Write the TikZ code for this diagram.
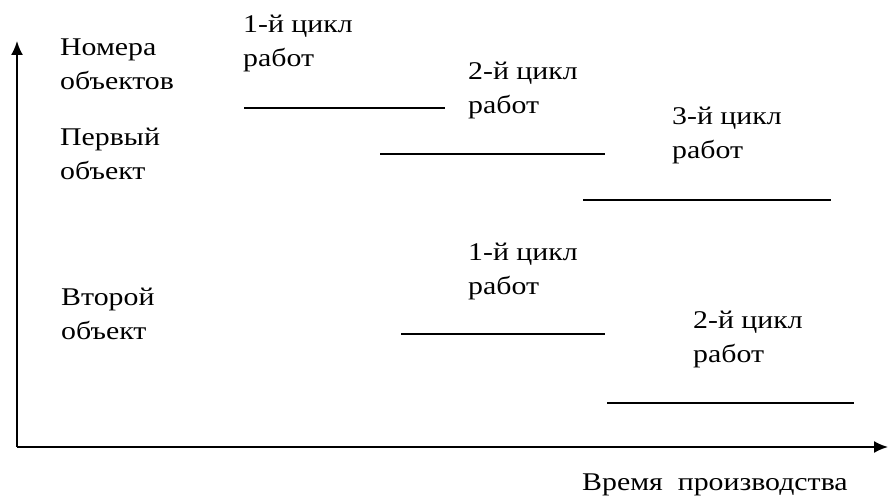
\documentclass[tikz,border=0pt]{standalone}
\usepackage{fontspec}
\setmainfont{Liberation Serif}[FakeStretch=1.17]
\usetikzlibrary{arrows.meta}
\begin{document}
\begin{tikzpicture}[x=1pt,y=-1pt,
  lbl/.style={anchor=base west,inner sep=0pt,align=left,
    font=\fontsize{25.5}{34}\selectfont},
  axis/.style={line width=1.8pt,-{Latex[length=14pt,width=12pt]}},
  seg/.style={line width=1.2pt}]
\useasboundingbox (0,0) rectangle (888,497);
\coordinate (o) at (17,447);
\coordinate (ytip) at (17,41);
\coordinate (xtip) at (888,447);
\draw[axis] (o) -- (ytip);
\draw[axis] (o) -- (xtip);
% segments
\coordinate (a1) at (244,108); \coordinate (a2) at (445,108);
\coordinate (b1) at (380,154); \coordinate (b2) at (605,154);
\coordinate (c1) at (583,200); \coordinate (c2) at (831,200);
\coordinate (d1) at (401,334); \coordinate (d2) at (605,334);
\coordinate (e1) at (607,403); \coordinate (e2) at (854,403);
\draw[seg] (a1) -- (a2);
\draw[seg] (b1) -- (b2);
\draw[seg] (c1) -- (c2);
\draw[seg] (d1) -- (d2);
\draw[seg] (e1) -- (e2);
% labels (anchor = baseline of last line)
\node[lbl] (t1) at (60,90) {Номера\\объектов};
\node[lbl] (t2) at (60,179) {Первый\\объект};
\node[lbl] (t3) at (61,339) {Второй\\объект};
\node[lbl] (t4) at (243,67) {1-й цикл\\работ};
\node[lbl] (t5) at (468,114) {2-й цикл\\работ};
\node[lbl] (t6) at (672,159) {3-й цикл\\работ};
\node[lbl] (t7) at (468,294) {1-й цикл\\работ};
\node[lbl] (t8) at (693,362) {2-й цикл\\работ};
\node[lbl] (t9) at (582,490) {Время\ \ производства};
\end{tikzpicture}
\end{document}
